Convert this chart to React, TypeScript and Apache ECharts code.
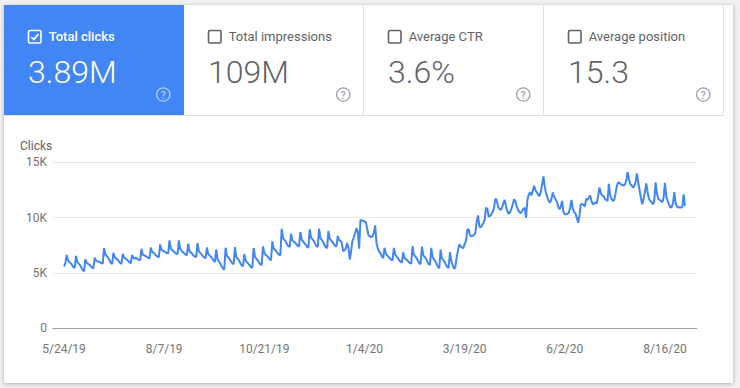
import { useEffect, useRef } from "react";
import * as echarts from "echarts";

// Daily clicks, one array per calendar month, starting 5/24/19
const may19 = [5580, 5900, 6630, 6150, 5980, 5900, 5720, 5530];
const jun19 = [5460, 6540, 5980, 5850, 5700, 5500, 5260, 5150, 6230, 5920, 5830, 5760, 5620, 5480, 5430, 6380, 6120, 6050, 6010, 5960, 5880, 5850, 7250, 6670, 6530, 6380, 6160, 5920, 5800, 6820];
const jul19 = [6420, 6320, 6220, 6070, 5900, 5820, 6720, 6390, 6310, 6230, 6100, 5960, 5900, 6640, 6360, 6300, 6380, 6250, 6180, 6150, 7180, 6650, 6600, 6520, 6480, 6360, 6300, 7290, 6900, 6820, 6700];
const aug19 = [6560, 6470, 6420, 7580, 7100, 7020, 6960, 6880, 6790, 6750, 7950, 7200, 7080, 6960, 6840, 6740, 6700, 7950, 7150, 7020, 6900, 6780, 6660, 6600, 7650, 6950, 6850, 6720, 6580, 6480, 6450];
const sep19 = [7700, 6950, 6820, 6680, 6520, 6400, 6350, 7300, 6700, 6600, 6450, 6300, 6100, 6000, 7100, 6200, 6050, 5850, 5600, 5400, 5300, 7280, 6550, 6400, 6250, 6050, 5880, 5800, 7330, 6450];
const oct19 = [6300, 6150, 5900, 5700, 5600, 6700, 6100, 5980, 5850, 5680, 5520, 5450, 7250, 6450, 6300, 6150, 5950, 5780, 5700, 7400, 6800, 6650, 6550, 6400, 6220, 6150, 7850, 7200, 7100, 6950, 6800];
const nov19 = [6650, 6600, 9000, 8150, 8000, 7850, 7600, 7420, 7350, 8550, 7950, 7850, 7750, 7600, 7450, 7400, 8700, 8000, 7850, 7700, 7550, 7350, 7300, 8950, 8200, 8050, 7900, 7650, 7420, 7350];
const dec19 = [9000, 8150, 8000, 7800, 7550, 7330, 7250, 8800, 8100, 7950, 7800, 7600, 7450, 7400, 8350, 7950, 7900, 7750, 6980, 7050, 7200, 7700, 7300, 6200, 7000, 7900, 8200, 8600, 9050, 8700, 7200];
const jan20 = [9800, 9750, 9700, 9650, 9600, 9000, 8400, 8300, 8250, 8300, 8600, 9300, 7700, 7200, 6900, 6800, 6500, 6350, 7270, 6750, 6600, 6450, 6300, 6200, 6150, 7270, 6650, 6500, 6350, 6150, 6000];
const feb20 = [5950, 6850, 6350, 6250, 6150, 6000, 5900, 5850, 7420, 6650, 6500, 6350, 6100, 5880, 5800, 7380, 6600, 6450, 6300, 6050, 5800, 5720, 7270, 6400, 6250, 6050, 5800, 5550, 5430];
const mar20 = [7120, 6300, 6150, 6000, 5750, 5550, 5450, 6870, 6100, 5700, 5380, 5500, 6400, 7000, 7600, 7400, 7300, 7250, 7600, 7900, 8900, 8950, 8400, 8300, 8350, 8450, 8600, 9600, 10200, 9200, 9100];
const apr20 = [9300, 9500, 9800, 10900, 10800, 10100, 10150, 10300, 10500, 10900, 11700, 11600, 11000, 10800, 10700, 10900, 11300, 11600, 11000, 10600, 10350, 10500, 10800, 11200, 11650, 11500, 11000, 10700, 10500, 10400];
const may20 = [10600, 10800, 10900, 10000, 11600, 12100, 12300, 12000, 12400, 12870, 12500, 12300, 12100, 11950, 12300, 13000, 13720, 12800, 12200, 11800, 11500, 11350, 11700, 12270, 11900, 11700, 11450, 11000, 10750, 11000, 11500];
const jun20 = [10500, 10300, 10300, 10350, 10450, 10900, 11600, 10800, 10500, 10350, 10000, 9540, 10200, 11200, 11250, 11150, 11000, 11700, 11600, 11800, 12000, 11500, 11200, 11250, 11400, 11300, 12000, 12720, 12200, 12000];
const jul20 = [11950, 11700, 11600, 11500, 13050, 12000, 11700, 11500, 11600, 12200, 12870, 13180, 13150, 13000, 12950, 12900, 13000, 13300, 14100, 13500, 13030, 12900, 12720, 12850, 13200, 14000, 13200, 12500, 11800, 11210, 11700];
const aug20 = [12300, 13100, 12300, 11700, 11500, 11400, 11210, 11500, 13180, 12200, 11700, 11600, 11500, 11400, 11800, 13150, 11900, 11500, 11200, 10900, 10950, 11300, 12300, 11300, 11000, 10900, 10950, 10900, 11000, 12100, 11050];

const monthlyClicks = [may19, jun19, jul19, aug19, sep19, oct19, nov19, dec19, jan20, feb20, mar20, apr20, may20, jun20, jul20, aug20];
const firstDay = "2019-05-24";

// x-axis label dates and y-axis ticks
const tickDates = ["2019-05-24", "2019-08-07", "2019-10-21", "2020-01-04", "2020-03-19", "2020-06-02", "2020-08-16"];
const yTicks = [0, 5000, 10000, 15000];

// summary tiles
const metricNames = ["Total clicks", "Total impressions", "Average CTR", "Average position"];
const metricTotals = ["3.89M", "109M", "3.6%", "15.3"];
const selectedMetric = 0;

const DAY = 86400000;
const FONT = "Roboto, Arial, sans-serif";
const BLUE = "#4285f4";
const GREY_TEXT = "#5f6368";

const toUTC = (s: string) => {
  const [y, m, d] = s.split("-").map(Number);
  return Date.UTC(y, m - 1, d);
};

const fmtDate = (t: number) => {
  const d = new Date(t);
  return `${d.getUTCMonth() + 1}/${d.getUTCDate()}/${String(d.getUTCFullYear()).slice(2)}`;
};

const fmtK = (v: number) => (v === 0 ? "0" : `${v / 1000}K`);

function textStyle(text: string, fill: string, fontSize: number, align: string, weight: number | string = 400) {
  return {
    text,
    fill,
    fontSize,
    fontFamily: FONT,
    fontWeight: weight,
    align,
    verticalAlign: "middle",
    textAlign: align,
    textVerticalAlign: "middle",
  };
}

function buildTiles() {
  const els: any[] = [];
  const top = 5;
  const tileH = 110;
  const tileW = 180;
  const left0 = 4;
  metricNames.forEach((name, i) => {
    const x = left0 + i * tileW;
    const active = i === selectedMetric;
    const fg = active ? "#ffffff" : GREY_TEXT;
    if (active) {
      els.push({ type: "rect", shape: { x, y: top, width: tileW, height: tileH }, style: { fill: BLUE } });
    }
    // checkbox
    els.push({
      type: "rect",
      shape: { x: x + 24.5, y: 30.5, width: 12.5, height: 12.5, r: 1.5 },
      style: { fill: "none", stroke: active ? "#ffffff" : "#5f6368", lineWidth: 1.6 },
    });
    if (active) {
      els.push({
        type: "polyline",
        shape: { points: [[x + 27.3, 37], [x + 29.9, 39.6], [x + 34.5, 34]] },
        style: { fill: "none", stroke: "#ffffff", lineWidth: 1.7 },
      });
    }
    els.push({ type: "text", x: x + 44.7, y: 36.4, style: textStyle(name, fg, 13, "left", active ? 500 : 400) });
    els.push({ type: "text", x: x + 24, y: 72, style: textStyle(metricTotals[i], fg, 32, "left", 300) });
    // help icon
    const helpColor = active ? "rgba(255,255,255,0.6)" : "#9aa0a6";
    els.push({
      type: "circle",
      shape: { cx: x + 159.3, cy: 94.5, r: 6.6 },
      style: { fill: "none", stroke: helpColor, lineWidth: 1.3 },
    });
    els.push({ type: "text", x: x + 159.3, y: 95, style: textStyle("?", helpColor, 10, "center", 500) });
    if (i > 0) {
      els.push({
        type: "line",
        shape: { x1: x + tileW - 0.5, y1: top, x2: x + tileW - 0.5, y2: top + tileH },
        style: { stroke: "#e0e0e0", lineWidth: 1 },
      });
    }
  });
  els.push({ type: "line", shape: { x1: 4, y1: 115.5, x2: 724, y2: 115.5 }, style: { stroke: "#e0e0e0", lineWidth: 1 } });
  return els;
}

export default function App() {
  const ref = useRef<HTMLDivElement>(null);

  useEffect(() => {
    if (!ref.current) return;
    const chart = echarts.init(ref.current, null, { renderer: "svg" });

    const t0 = toUTC(firstDay);
    const clicks = monthlyClicks.flat();
    // x is the day offset from the first day
    const data = clicks.map((v, i) => [i, v]);
    const labelDays = tickDates.map((s) => Math.round((toUTC(s) - t0) / DAY));

    chart.setOption({
      animation: false,
      backgroundColor: "#f1f1f1",
      graphic: {
        elements: [
          {
            type: "rect",
            z: -10,
            shape: { x: 4, y: 5, width: 729, height: 378 },
            style: { fill: "#ffffff", shadowBlur: 4, shadowColor: "rgba(0,0,0,0.28)", shadowOffsetX: 0, shadowOffsetY: 1 },
          },
          ...buildTiles(),
          { type: "text", x: 20, y: 145.7, style: textStyle("Clicks", GREY_TEXT, 12, "left") },
        ],
      },
      grid: { left: 53, right: 43, top: 162.3, bottom: 59.7 },
      xAxis: {
        type: "value",
        min: -8.25,
        max: 474,
        axisLine: { show: true, lineStyle: { color: "#9e9e9e", width: 1 } },
        axisTick: { show: false },
        splitLine: { show: false },
        axisLabel: {
          customValues: labelDays,
          formatter: (v: number) => fmtDate(t0 + v * DAY),
          color: "#757575",
          fontSize: 12,
          fontFamily: FONT,
          margin: 15,
          showMinLabel: true,
          showMaxLabel: true,
        },
      },
      yAxis: {
        type: "value",
        min: yTicks[0],
        max: yTicks[yTicks.length - 1],
        interval: yTicks[1] - yTicks[0],
        axisLine: { show: false },
        axisTick: { show: false },
        splitLine: { show: true, lineStyle: { color: "#e8e8e8", width: 1 } },
        axisLabel: {
          formatter: (v: number) => fmtK(v),
          color: "#757575",
          fontSize: 12,
          fontFamily: FONT,
          margin: 6,
        },
      },
      series: [
        {
          type: "line",
          data,
          showSymbol: false,
          smooth: false,
          lineStyle: { color: BLUE, width: 2 },
          itemStyle: { color: BLUE },
        },
      ],
    });

    return () => chart.dispose();
  }, []);

  return <div ref={ref} style={{ position: "absolute", left: 0, top: 0, width: 740, height: 388 }} />;
}
